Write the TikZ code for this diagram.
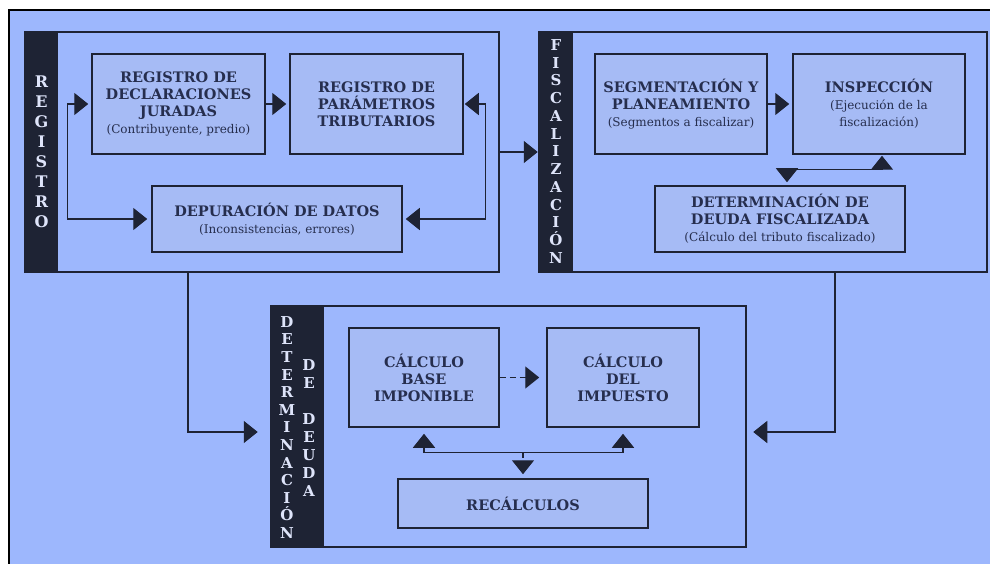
\documentclass[tikz,border=0pt]{standalone}
\usepackage{fontspec}
\setmainfont{DejaVu Serif}
\usetikzlibrary{arrows.meta}

\definecolor{fondo}{RGB}{157,183,253}
\definecolor{cajafondo}{RGB}{166,187,245}
\definecolor{oscuro}{RGB}{30,35,52}
\definecolor{letra}{RGB}{38,46,78}
\definecolor{claro}{RGB}{222,228,250}

\tikzset{
  seccion/.style={draw=oscuro, line width=2.5pt, inner sep=0pt},
  barra/.style={fill=oscuro, inner sep=0pt},
  caja/.style={draw=oscuro, line width=1.5pt, fill=cajafondo, text=letra, align=center,
    inner sep=0pt, font=\bfseries\fontsize{14.5}{17}\selectfont},
  vertical/.style={text=claro, align=center, inner sep=0pt},
  flecha/.style={draw=oscuro, line width=1.4pt, -{Triangle[length=14pt,width=22pt]}},
  ambas/.style={draw=oscuro, line width=1.4pt,
    {Triangle[length=14pt,width=22pt]}-{Triangle[length=14pt,width=22pt]}},
}
\newcommand{\notita}[1]{{\mdseries\fontsize{12}{17}\selectfont #1}}

\begin{document}
\begin{tikzpicture}[x=1pt, y=-1pt]
	\useasboundingbox (0,0) rectangle (990,564);
	% fondo y marco
	\fill[fondo] (9,10) rectangle (990,564);
	\draw[black, line width=2pt] (9,564) -- (9,10) -- (990,10);

	% secciones
	\node[barra, minimum width=33pt, minimum height=240pt] (regbar) at (41.5,152) {};
	\node[barra, minimum width=34pt, minimum height=240pt] (fisbar) at (556,152) {};
	\node[barra, minimum width=53pt, minimum height=241pt] (detbar) at (297.5,426.5) {};
	\node[seccion, minimum width=474pt, minimum height=240pt] (reg) at (262,152) {};
	\node[seccion, minimum width=448pt, minimum height=240pt] (fis) at (763,152) {};
	\node[seccion, minimum width=475pt, minimum height=241pt] (det) at (508.5,426.5) {};

	\node[vertical, font=\bfseries\fontsize{16}{20}\selectfont] (regtxt) at (41.5,152)
		{R\\E\\G\\I\\S\\T\\R\\O};
	\node[vertical, font=\bfseries\fontsize{15}{17.75}\selectfont] (fistxt) at (556,151.5)
		{F\\I\\S\\C\\A\\L\\I\\Z\\A\\C\\I\\Ó\\N};
	\node[vertical, font=\bfseries\fontsize{15}{17.6}\selectfont] (dettxt) at (287,427.5)
		{D\\E\\T\\E\\R\\M\\I\\N\\A\\C\\I\\Ó\\N};
	\node[vertical, font=\bfseries\fontsize{15}{18}\selectfont] (deudatxt) at (309,428)
		{D\\E\\ \\D\\E\\U\\D\\A};

	% registro
	\node[caja, minimum width=173pt, minimum height=100pt] (decl) at (178.5,104)
		{REGISTRO DE\\DECLARACIONES\\JURADAS\\\notita{(Contribuyente, predio)}};
	\node[caja, minimum width=173pt, minimum height=100pt] (param) at (376.5,104)
		{REGISTRO DE\\PARÁMETROS\\TRIBUTARIOS};
	\node[caja, minimum width=250pt, minimum height=66pt] (depu) at (277,219)
		{DEPURACIÓN DE DATOS\\\notita{(Inconsistencias, errores)}};

	% fiscalizacion
	\node[caja, minimum width=172pt, minimum height=100pt] (seg) at (681,104)
		{SEGMENTACIÓN Y\\PLANEAMIENTO\\\notita{(Segmentos a fiscalizar)}};
	\node[caja, minimum width=172pt, minimum height=100pt] (insp) at (879,104)
		{INSPECCIÓN\\\notita{(Ejecución de la}\\\notita{fiscalización)}};
	\node[caja, minimum width=250pt, minimum height=66pt] (detf) at (780,219)
		{DETERMINACIÓN DE\\DEUDA FISCALIZADA\\\notita{(Cálculo del tributo fiscalizado)}};

	% determinacion de deuda
	\node[caja, minimum width=150pt, minimum height=99pt] (base) at (424,377.5)
		{CÁLCULO\\BASE\\IMPONIBLE};
	\node[caja, minimum width=152pt, minimum height=99pt] (imp) at (623,377.5)
		{CÁLCULO\\DEL\\IMPUESTO};
	\node[caja, minimum width=250pt, minimum height=49pt] (recalc) at (523,503.5)
		{RECÁLCULOS};

	% flechas
	\draw[flecha, shorten >=3pt] (decl) -- (param);
	\draw[ambas, shorten <=3pt, shorten >=4pt] (decl.west) -- ++(-24pt,0pt) |- (depu.west);
	\draw[ambas, shorten <=1pt, shorten >=3pt] (param.east) -- ++(22pt,0pt) |- (depu.east);
	\draw[flecha] (reg) -- (fis);
	\draw[flecha, shorten >=3pt] (seg) -- (insp);
	\draw[ambas, shorten <=3pt, shorten >=1pt] ([xshift=7pt]detf.north) -- ++(0pt,16pt)
		-| ([xshift=3pt]insp.south);
	\draw[flecha, shorten >=12pt] ([xshift=-74pt]reg.south) |- ([yshift=-5.5pt]det.west);
	\draw[flecha, shorten >=6pt] ([xshift=72pt]fis.south) |- ([yshift=-5.5pt]det.east);
	\draw[flecha, dash pattern=on 6pt off 4pt, shorten >=7pt] (base) -- (imp);
	\draw[ambas, shorten <=6pt, shorten >=6pt] (base.south) -- ++(0pt,-25pt) -| (imp.south);
	\coordinate (cruce) at ([yshift=-25pt]base.south);
	\draw[flecha, dash pattern=on 5pt off 3pt, shorten >=4pt] (cruce -| recalc.north) -- (recalc.north);
\end{tikzpicture}
\end{document}
